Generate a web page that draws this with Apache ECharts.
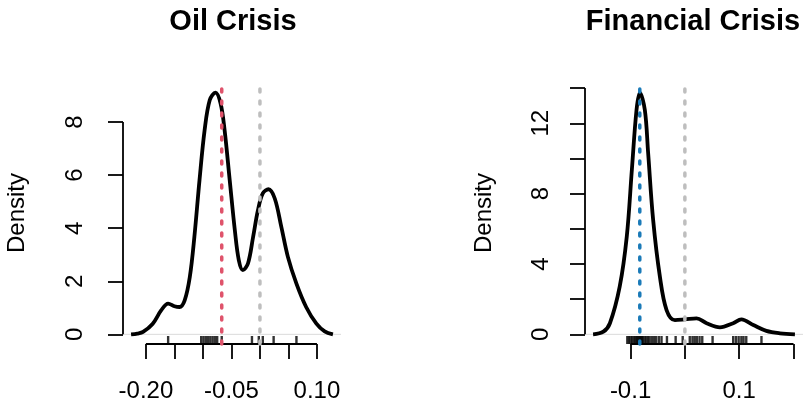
<!DOCTYPE html>
<html>
<head>
<meta charset="utf-8">
<title>Crisis densities</title>
<script src="https://cdn.jsdelivr.net/npm/echarts@6/dist/echarts.min.js"></script>
<style>
html, body { margin: 0; padding: 0; background: #fff; }
#main { width: 811px; height: 406px; }
</style>
</head>
<body>
<div id="main"></div>
<script>
// density curves
var oilX = [-0.226, -0.215, -0.205, -0.188, -0.173, -0.161, -0.150, -0.141, -0.132, -0.123, -0.115, -0.106, -0.097, -0.088, -0.078, -0.069, -0.062, -0.053, -0.044, -0.037, -0.030, -0.021, -0.012, -0.0035, 0.005, 0.015, 0.026, 0.0375, 0.049, 0.064, 0.081, 0.099, 0.1135, 0.128];
var oilY = [0.0, 0.03, 0.09, 0.40, 0.91, 1.16, 1.06, 1.03, 1.28, 2.16, 3.67, 5.81, 7.70, 8.83, 9.11, 8.70, 7.70, 5.81, 3.92, 2.79, 2.42, 2.67, 3.67, 4.68, 5.31, 5.47, 5.12, 4.05, 2.92, 1.91, 1.03, 0.40, 0.11, 0.0];
var oilRug = [-0.161, -0.103, -0.099, -0.095, -0.091, -0.087, -0.083, -0.079, -0.075, -0.067, -0.014, -0.002, 0.005, 0.024, 0.064];
var oilMark = -0.067;

var finX = [-0.169, -0.150, -0.138, -0.120, -0.107, -0.0976, -0.089, -0.0829, -0.0737, -0.0676, -0.0584, -0.046, -0.0337, -0.0184, 0.0, 0.0215, 0.040, 0.0645, 0.089, 0.104, 0.126, 0.150, 0.175, 0.2026];
var finY = [0.0, 0.15, 0.63, 2.71, 5.55, 9.35, 12.76, 13.74, 12.76, 10.3, 6.5, 3.28, 1.38, 0.81, 0.85, 0.91, 0.63, 0.40, 0.63, 0.85, 0.53, 0.20, 0.06, 0.0];
var finRug = [-0.106, -0.103, -0.100, -0.097, -0.094, -0.091, -0.089, -0.087, -0.085, -0.083, -0.081, -0.079, -0.077, -0.074, -0.071, -0.068, -0.065, -0.061, -0.057, -0.053, -0.048, -0.043, -0.033, -0.017, -0.004, 0.009, 0.014, 0.018, 0.022, 0.027, 0.032, 0.051, 0.089, 0.094, 0.099, 0.104, 0.108, 0.113, 0.141];
var finMark = -0.083;

// axis ticks and the labels R kept
var oilXTicks = [-0.20, -0.15, -0.10, -0.05, 0.00, 0.05, 0.10];
var oilXLabels = [-0.20, -0.05, 0.10];
var oilYTicks = [0, 2, 4, 6, 8];
var oilYLabels = [0, 2, 4, 6, 8];
var finXTicks = [-0.1, 0.0, 0.1, 0.2];
var finXLabels = [-0.1, 0.1];
var finYTicks = [0, 2, 4, 6, 8, 10, 12, 14];
var finYLabels = [0, 4, 8, 12];

var titles = ['Oil Crisis', 'Financial Crisis'];

var FONT = 'Liberation Sans, Arial, Helvetica, sans-serif';

var myChart = echarts.init(document.getElementById('main'));

function pairs(xs, ys)
{
    var out = [];
    for (var i = 0; i < xs.length; i++) {
        out.push([xs[i], ys[i]]);
    }
    return out;
}

// R style plot region: data range padded by 4%
function region(xs, ys)
{
    var xmin = Math.min.apply(null, xs), xmax = Math.max.apply(null, xs);
    var ymax = Math.max.apply(null, ys);
    var dx = (xmax - xmin) * 0.04, dy = ymax * 0.04;
    return { x0: xmin - dx, x1: xmax + dx, y0: -dy, y1: ymax + dy };
}

var oilR = region(oilX, oilY);
var finR = region(finX, finY);

function plainLine(idx, data, style)
{
    return {
        type: 'line', xAxisIndex: idx, yAxisIndex: idx,
        data: data, showSymbol: false, clip: false, silent: true,
        lineStyle: style
    };
}

function panelSeries(idx, r, xs, ys, rug, mark, markColor, xt, yt)
{
    var dashed = { width: 3.5, type: [3, 9], cap: 'round' };
    var axisStyle = { color: '#000', width: 1.8 };
    return [
        plainLine(idx, [[r.x0, 0], [r.x1, 0]], { color: '#DADADA', width: 1 }),
        // R draws axis lines only across the tick range
        plainLine(idx, [[xt[0], r.y0], [xt[xt.length - 1], r.y0]], axisStyle),
        plainLine(idx, [[r.x0, yt[0]], [r.x0, yt[yt.length - 1]]], axisStyle),
        {
            type: 'line', xAxisIndex: idx, yAxisIndex: idx,
            data: pairs(xs, ys),
            smooth: 0.35, showSymbol: false, clip: false,
            lineStyle: { color: '#000', width: 3.8 }
        },
        {
            type: 'scatter', xAxisIndex: idx, yAxisIndex: idx,
            data: rug.map(function (v) { return [v, r.y0]; }),
            symbol: 'rect', symbolSize: [2.4, 8], symbolOffset: [0, -4],
            clip: false, silent: true,
            itemStyle: { color: '#000' }
        },
        plainLine(idx, [[0, r.y0], [0, r.y1]], Object.assign({ color: '#BEBEBE' }, dashed)),
        plainLine(idx, [[mark, r.y0], [mark, r.y1]], Object.assign({ color: markColor }, dashed))
    ];
}

function xAxisOpt(idx, r, ticks, labels, digits)
{
    return {
        type: 'value', gridIndex: idx, min: r.x0, max: r.x1,
        axisLine: { show: false, onZero: false },
        axisTick: { show: true, length: 15, customValues: ticks, lineStyle: { color: '#000', width: 1.8 } },
        splitLine: { show: false },
        axisLabel: {
            color: '#000', fontSize: 24, fontFamily: FONT, margin: 35,
            customValues: labels, hideOverlap: false,
            formatter: function (v) { return v.toFixed(digits); }
        }
    };
}

function yAxisOpt(idx, r, ticks, labels, margin)
{
    return {
        type: 'value', gridIndex: idx, min: r.y0, max: r.y1,
        axisLine: { show: false, onZero: false },
        axisTick: { show: true, length: 15, customValues: ticks, lineStyle: { color: '#000', width: 1.8 } },
        splitLine: { show: false },
        axisLabel: {
            color: '#000', fontSize: 24, fontFamily: FONT, margin: margin, rotate: 90,
            customValues: labels, hideOverlap: false,
            formatter: function (v) { return String(Math.round(v)); }
        }
    };
}

function textEl(str, x, y, size, weight, rot)
{
    return {
        type: 'text', x: x, y: y, rotation: rot || 0,
        style: {
            text: str, fill: '#000', fontSize: size, fontWeight: weight,
            fontFamily: FONT, align: 'center', verticalAlign: 'middle'
        }
    };
}

var option = {
    backgroundColor: '#fff',
    animation: false,
    grid: [
        { left: 123, right: 470, top: 83, bottom: 62 },
        { left: 585, right: 8, top: 83, bottom: 62 }
    ],
    xAxis: [
        xAxisOpt(0, oilR, oilXTicks, oilXLabels, 2),
        xAxisOpt(1, finR, finXTicks, finXLabels, 1)
    ],
    yAxis: [
        yAxisOpt(0, oilR, oilYTicks, oilYLabels, 36),
        yAxisOpt(1, finR, finYTicks, finYLabels, 32)
    ],
    graphic: [
        textEl(titles[0], 233, 22, 29, 'bold'),
        textEl(titles[1], 693, 22, 29, 'bold'),
        textEl('Density', 17, 213, 24, 'normal', Math.PI / 2),
        textEl('Density', 484, 213, 24, 'normal', Math.PI / 2)
    ],
    series: [].concat(
        panelSeries(0, oilR, oilX, oilY, oilRug, oilMark, '#DF536B', oilXTicks, oilYTicks),
        panelSeries(1, finR, finX, finY, finRug, finMark, '#1A7AB8', finXTicks, finYTicks)
    )
};

myChart.setOption(option);
</script>
</body>
</html>
